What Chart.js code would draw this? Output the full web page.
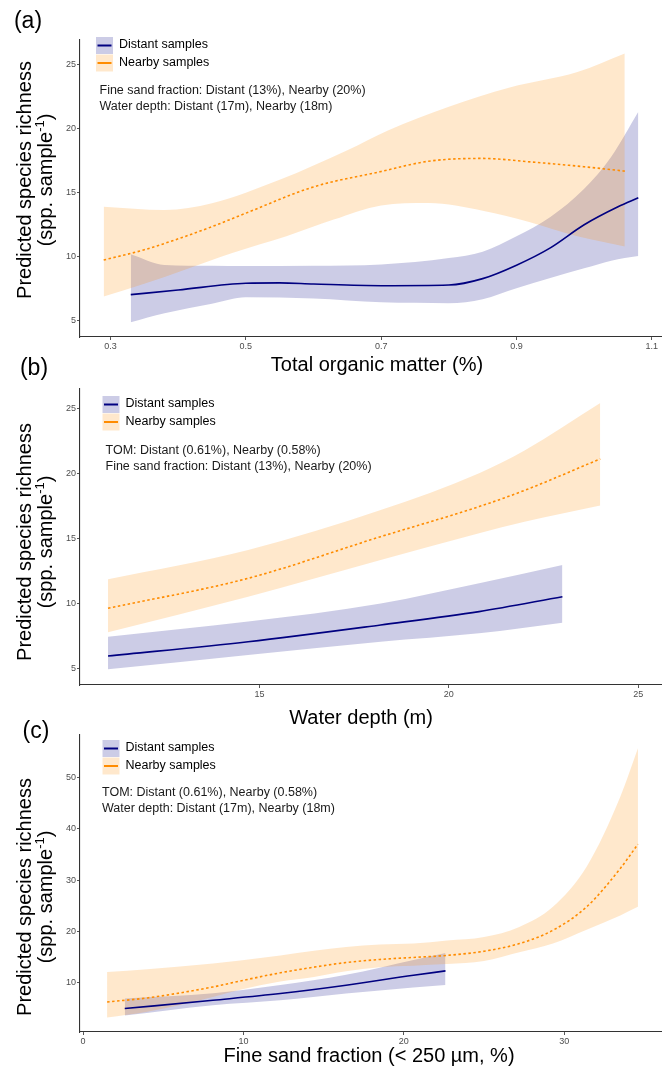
<!DOCTYPE html>
<html><head><meta charset="utf-8">
<script src="https://cdn.jsdelivr.net/npm/chart.js@4.4.0/dist/chart.umd.min.js"></script>
<style>
html,body{margin:0;padding:0;background:#fff;}
#wrap{position:relative;width:662px;height:1072px;overflow:hidden;background:#fff;}
canvas{position:absolute;left:0;}
</style></head><body>
<div id="wrap">
<canvas id="ca" width="662" height="380" style="top:0px;width:662px;height:380px"></canvas>
<canvas id="cb" width="662" height="380" style="top:355px;width:662px;height:380px"></canvas>
<canvas id="cc" width="662" height="372" style="top:700px;width:662px;height:372px"></canvas>
</div>
<script>
// ---------- DATA ----------
const LEGEND_LABELS = ['Distant samples', 'Nearby samples'];
const Y_TITLE = 'Predicted species richness';
const Y_TITLE2 = ['(spp. sample', '-1', ')'];

// Panel (a): Total organic matter (%)
const A_X_TICKS = [0.3, 0.5, 0.7, 0.9, 1.1];
const A_Y_TICKS = [5, 10, 15, 20, 25];
const A_DIST_X   = [0.33, 0.4, 0.5, 0.55, 0.6, 0.7, 0.8, 0.85, 0.9, 0.95, 1.0, 1.05, 1.08];
const A_DIST_FIT = [7.05, 7.41, 7.94, 7.97, 7.88, 7.75, 7.8, 8.3, 9.35, 10.7, 12.5, 13.9, 14.6];
const A_DIST_BX  = [0.33, 0.38, 0.45, 0.5, 0.6, 0.7, 0.8, 0.85, 0.9, 0.95, 1.0, 1.04, 1.08];
const A_DIST_HI  = [10.2, 9.36, 9.3, 9.28, 9.3, 9.4, 9.9, 10.4, 11.6, 13.1, 15.3, 17.8, 21.3];
const A_DIST_LO  = [4.9, 5.6, 6.35, 6.85, 6.75, 6.45, 6.38, 6.7, 7.55, 8.35, 9.1, 9.7, 10.06];
const A_NEAR_X   = [0.29, 0.35, 0.4, 0.45, 0.5, 0.6, 0.7, 0.77, 0.85, 0.92, 1.0, 1.06];
const A_NEAR_FIT = [9.75, 10.55, 11.4, 12.35, 13.4, 15.45, 16.65, 17.45, 17.67, 17.4, 17.02, 16.68];
const A_NEAR_HX  = [0.29, 0.38, 0.45, 0.55, 0.65, 0.71, 0.8, 0.89, 0.99, 1.06];
const A_NEAR_HI  = [13.9, 13.64, 14.17, 16.0, 18.3, 19.85, 21.7, 23.2, 24.4, 25.85];
const A_NEAR_LX  = [0.29, 0.35, 0.41, 0.48, 0.56, 0.63, 0.7, 0.77, 0.85, 0.92, 0.99, 1.06];
const A_NEAR_LO  = [6.9, 7.9, 9.0, 10.3, 11.6, 12.9, 14.0, 14.2, 13.6, 12.7, 11.6, 10.8];
const A_NOTES = ['Fine sand fraction: Distant (13%), Nearby (20%)', 'Water depth: Distant (17m), Nearby (18m)'];

// Panel (b): Water depth (m)
const B_X_TICKS = [15, 20, 25];
const B_Y_TICKS = [5, 10, 15, 20, 25];
const B_DIST_X   = [11, 14.7, 18.2, 20.8, 23];
const B_DIST_FIT = [5.95, 7.05, 8.34, 9.37, 10.52];
const B_DIST_HI  = [7.44, 8.6, 10.0, 11.56, 12.97];
const B_DIST_LO  = [4.92, 6.03, 7.05, 7.7, 8.52];
const B_NEAR_X   = [11, 14.7, 18.2, 20.8, 22, 24];
const B_NEAR_FIT = [9.63, 11.94, 15.15, 17.47, 18.72, 21.15];
const B_NEAR_HI  = [11.87, 14.13, 17.2, 20.05, 21.8, 25.46];
const B_NEAR_LO  = [7.78, 10.52, 13.36, 15.42, 16.3, 17.56];
const B_NOTES = ['TOM: Distant (0.61%), Nearby (0.58%)', 'Fine sand fraction: Distant (13%), Nearby (20%)'];

// Panel (c): Fine sand fraction (< 250 µm, %)
const C_X_TICKS = [0, 10, 20, 30];
const C_Y_TICKS = [10, 20, 30, 40, 50];
const C_DIST_X   = [2.6, 8.1, 12.3, 16.4, 20.6, 22.6];
const C_DIST_FIT = [4.92, 6.54, 7.85, 9.47, 11.42, 12.27];
const C_DIST_HI  = [6.9, 7.9, 9.5, 11.5, 14.4, 15.78];
const C_DIST_LO  = [3.55, 5.57, 6.54, 7.85, 9.02, 9.5];
const C_NEAR_X   = [1.5, 4.0, 8.1, 9.8, 12.3, 14.4, 16.4, 18.5, 20.6, 22.7, 25.0, 27.2, 29.3, 31.4, 33.5, 34.6];
const C_NEAR_FIT = [6.21, 7.0, 9.14, 10.3, 11.9, 13.0, 13.9, 14.5, 14.9, 15.3, 16.1, 17.6, 20.2, 24.77, 32.26, 37.0];
const C_NEAR_HI  = [12.07, 12.6, 13.7, 14.3, 15.3, 16.2, 16.95, 17.4, 17.6, 18.2, 18.9, 20.86, 24.8, 32.6, 46.25, 55.7];
const C_NEAR_LO  = [3.16, 4.3, 7.2, 8.6, 10.2, 11.1, 12.2, 13.0, 13.3, 13.6, 14.2, 15.9, 17.6, 20.3, 23.1, 24.77];
const C_NOTES = ['TOM: Distant (0.61%), Nearby (0.58%)', 'Water depth: Distant (17m), Nearby (18m)'];

// ---------- STYLE ----------
const FONT = '"Liberation Sans", Arial, Helvetica, sans-serif';
const DIST_LINE = '#000080';
const NEAR_LINE = '#FF8C00';
const DIST_FILL = 'rgba(0,0,128,0.2)';
const NEAR_FILL = 'rgba(255,140,0,0.2)';

const pts = (xs, ys) => xs.map((x, i) => ({x: x, y: ys[i]}));

function datasets(d) {
  return [
    {data: pts(d.dx, d.dfit), borderColor: DIST_LINE, borderWidth: 1.6, order: 0},
    {data: pts(d.nx, d.nfit), borderColor: NEAR_LINE, borderWidth: 1.6, borderDash: [2.5, 2.5], order: 0},
    {data: pts(d.dhx, d.dhi), borderWidth: 0, borderColor: 'rgba(0,0,0,0)', backgroundColor: DIST_FILL, fill: '+1', order: 2},
    {data: pts(d.dlx, d.dlo), borderWidth: 0, borderColor: 'rgba(0,0,0,0)', fill: false, order: 2},
    {data: pts(d.nhx, d.nhi), borderWidth: 0, borderColor: 'rgba(0,0,0,0)', backgroundColor: NEAR_FILL, fill: '+1', order: 1},
    {data: pts(d.nlx, d.nlo), borderWidth: 0, borderColor: 'rgba(0,0,0,0)', fill: false, order: 1}
  ].map(ds => Object.assign({pointRadius: 0, cubicInterpolationMode: 'monotone'}, ds));
}

const decor = {
  id: 'decor',
  afterDraw(chart, args, o) {
    const ctx = chart.ctx;
    ctx.save();
    ctx.fillStyle = '#000';
    ctx.textBaseline = 'middle';
    // panel tag
    ctx.font = '23px ' + FONT; ctx.textAlign = 'center';
    ctx.fillText(o.tag, o.tagX, o.tagY);
    // x title
    ctx.font = '20px ' + FONT;
    ctx.fillText(o.xTitle, o.xTitleX, o.xTitleY);
    // y title (rotated, 2 lines)
    ctx.save();
    ctx.translate(25, o.yTitleY); ctx.rotate(-Math.PI / 2);
    ctx.fillText(Y_TITLE, 0, 0);
    ctx.restore();
    ctx.save();
    ctx.translate(46, o.yTitleY); ctx.rotate(-Math.PI / 2);
    ctx.font = '20px ' + FONT; const w1 = ctx.measureText(Y_TITLE2[0]).width;
    const w3 = ctx.measureText(Y_TITLE2[2]).width;
    ctx.font = '13px ' + FONT; const w2 = ctx.measureText(Y_TITLE2[1]).width;
    let x = -(w1 + w2 + w3) / 2;
    ctx.textAlign = 'left';
    ctx.font = '20px ' + FONT; ctx.fillText(Y_TITLE2[0], x, 0); x += w1;
    ctx.font = '13px ' + FONT; ctx.fillText(Y_TITLE2[1], x, -6); x += w2;
    ctx.font = '20px ' + FONT; ctx.fillText(Y_TITLE2[2], x, 0);
    ctx.restore();
    // legend
    const fills = [DIST_FILL, NEAR_FILL], lines = [DIST_LINE, NEAR_LINE];
    ctx.textAlign = 'left';
    ctx.font = '12.5px ' + FONT;
    LEGEND_LABELS.forEach((lab, i) => {
      const by = o.legY + i * 17.5;
      ctx.fillStyle = fills[i];
      ctx.fillRect(o.legX, by, 17, 17);
      ctx.strokeStyle = lines[i]; ctx.lineWidth = 2;
      ctx.beginPath(); ctx.moveTo(o.legX + 1.5, by + 8.5); ctx.lineTo(o.legX + 15.5, by + 8.5); ctx.stroke();
      ctx.fillStyle = '#000';
      ctx.fillText(lab, o.legX + 23, by + 8);
    });
    // notes
    ctx.fillStyle = '#1a1a1a';
    o.notes.forEach((t, i) => ctx.fillText(t, o.noteX, o.noteY + i * 16));
    ctx.restore();
  }
};

function scaleX(min, max, ticks, h) {
  return {
    type: 'linear', min: min, max: max,
    afterBuildTicks: s => { s.ticks = ticks.map(v => ({value: v})); },
    afterFit: s => { s.height = h; },
    ticks: {font: {size: 9, family: FONT}, color: '#4d4d4d', padding: 1, maxRotation: 0, autoSkip: false, callback: v => String(v)},
    grid: {display: true, drawOnChartArea: false, drawTicks: true, tickLength: 3, tickColor: '#555', lineWidth: 1},
    border: {display: true, color: '#333', width: 1.1}
  };
}
function scaleY(min, max, ticks) {
  return {
    type: 'linear', min: min, max: max,
    afterBuildTicks: s => { s.ticks = ticks.map(v => ({value: v})); },
    afterFit: s => { s.width = 80; },
    ticks: {font: {size: 9, family: FONT}, color: '#4d4d4d', padding: 1, autoSkip: false, callback: v => String(v)},
    grid: {display: true, drawOnChartArea: false, drawTicks: true, tickLength: 3, tickColor: '#555', lineWidth: 1},
    border: {display: true, color: '#333', width: 1.1}
  };
}

function make(id, d, cfg) {
  const H = document.getElementById(id).height;
  return new Chart(document.getElementById(id), {
    type: 'line',
    data: {datasets: datasets(d)},
    plugins: [decor],
    options: {
      responsive: false, animation: false, devicePixelRatio: 1,
      layout: {padding: {top: cfg.top, left: 0, right: 0, bottom: 0}},
      scales: {
        x: scaleX(cfg.xmin, cfg.xmax, d.xticks, H - cfg.bottom),
        y: scaleY(cfg.ymin, cfg.ymax, d.yticks)
      },
      plugins: {legend: {display: false}, tooltip: {enabled: false}, decor: cfg.decor}
    }
  });
}

make('ca', {
  xticks: A_X_TICKS, yticks: A_Y_TICKS,
  dx: A_DIST_X, dfit: A_DIST_FIT, dhx: A_DIST_BX, dhi: A_DIST_HI, dlx: A_DIST_BX, dlo: A_DIST_LO,
  nx: A_NEAR_X, nfit: A_NEAR_FIT, nhx: A_NEAR_HX, nhi: A_NEAR_HI, nlx: A_NEAR_LX, nlo: A_NEAR_LO
}, {top: 40, bottom: 337, xmin: 0.255, xmax: 1.115, ymin: 3.75, ymax: 26.9,
  decor: {tag: '(a)', tagX: 28, tagY: 22, xTitle: 'Total organic matter (%)', xTitleX: 377, xTitleY: 365,
    yTitleY: 180, legX: 96, legY: 37, notes: A_NOTES, noteX: 99.5, noteY: 91}});

make('cb', {
  xticks: B_X_TICKS, yticks: B_Y_TICKS,
  dx: B_DIST_X, dfit: B_DIST_FIT, dhx: B_DIST_X, dhi: B_DIST_HI, dlx: B_DIST_X, dlo: B_DIST_LO,
  nx: B_NEAR_X, nfit: B_NEAR_FIT, nhx: B_NEAR_X, nhi: B_NEAR_HI, nlx: B_NEAR_X, nlo: B_NEAR_LO
}, {top: 34, bottom: 330, xmin: 10.26, xmax: 25.63, ymin: 3.71, ymax: 26.54,
  decor: {tag: '(b)', tagX: 34, tagY: 14, xTitle: 'Water depth (m)', xTitleX: 361, xTitleY: 363,
    yTitleY: 187, legX: 102.5, legY: 41, notes: B_NOTES, noteX: 105.5, noteY: 96}});

make('cc', {
  xticks: C_X_TICKS, yticks: C_Y_TICKS,
  dx: C_DIST_X, dfit: C_DIST_FIT, dhx: C_DIST_X, dhi: C_DIST_HI, dlx: C_DIST_X, dlo: C_DIST_LO,
  nx: C_NEAR_X, nfit: C_NEAR_FIT, nhx: C_NEAR_X, nhi: C_NEAR_HI, nlx: C_NEAR_X, nlo: C_NEAR_LO
}, {top: 35, bottom: 332, xmin: -0.19, xmax: 36.1, ymin: 0.35, ymax: 58.3,
  decor: {tag: '(c)', tagX: 36, tagY: 32, xTitle: 'Fine sand fraction (< 250 µm, %)', xTitleX: 369, xTitleY: 356,
    yTitleY: 197, legX: 102.5, legY: 40, notes: C_NOTES, noteX: 102, noteY: 93}});
</script>
</body></html>
